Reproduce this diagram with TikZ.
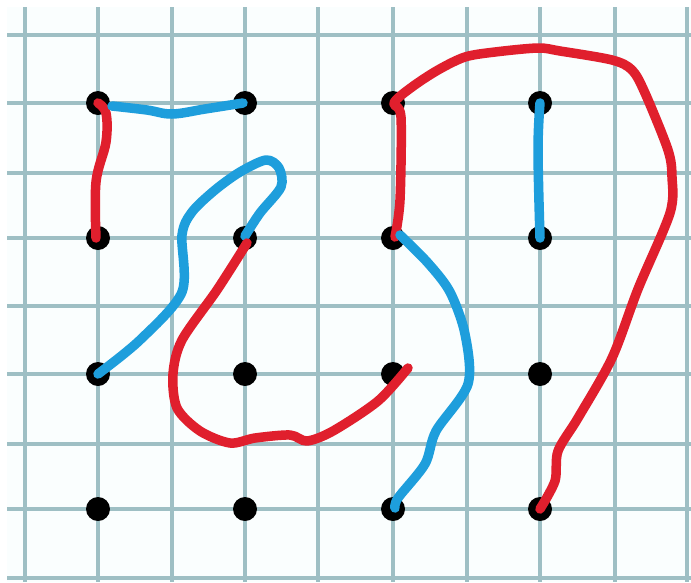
\documentclass[tikz,border=0pt]{standalone}
\definecolor{gridc}{HTML}{9EBFC4}
\definecolor{paper}{HTML}{FAFEFE}
\definecolor{redc}{HTML}{E01F2D}
\definecolor{bluec}{HTML}{1E9EDC}
\tikzset{
  gridline/.style={gridc, line width=3.4pt},
  dotn/.style={circle, fill=black, inner sep=0pt, minimum size=24pt},
  redpath/.style={redc, line width=9.5pt, line cap=round, line join=round},
  bluepath/.style={bluec, line width=9.5pt, line cap=round, line join=round},
}
\begin{document}
\begin{tikzpicture}[x=1pt,y=-1pt]
\useasboundingbox (0,0) rectangle (691,582);
\fill[white] (0,0) rectangle (691,582);
\fill[paper] (7,7) rectangle (691,582);
% grid
\foreach \x in {25,98,172,245,318,393,467,540,615,687}
  \draw[gridline] (\x,7) -- (\x,582);
\foreach \y in {35,103,173,238,306,374,444,509,578}
  \draw[gridline] (7,\y) -- (691,\y);
% dots
\foreach \i/\x in {1/98,2/245,3/393,4/540}
  \foreach \j/\y in {1/103,2/238,3/374,4/509}
    \node[dotn] (d\i\j) at (\x,\y) {};
% red 1
\draw[redpath] plot[smooth, tension=0.6] coordinates {(d11) (106,113) (106,142) (96,182) (96,238)};
% blue 1
\draw[bluepath] plot[smooth, tension=0.6] coordinates {(112,106) (147,110) (172,114) (205,109) (243,103)};
% blue 2
\draw[bluepath] plot[smooth, tension=0.5] coordinates {(d13) (140,340) (182,292) (182,235) (192,212) (215,190) (240,172) (266,160) (279,168) (281,187) (260,213) (245,236)};
% red 2
\draw[redpath] plot[smooth, tension=0.5] coordinates {(247,243) (217,290) (182,340) (173,374) (177,408) (200,431) (230,443) (255,438) (290,435) (307,441) (333,431) (378,401) (408,368)};
% red 3
\draw[redpath] plot[smooth, tension=0.5] coordinates {(395,237) (400,200) (401,117) (394,103) (412,87) (438,70) (465,57) (495,52) (538,48) (560,51) (612,60) (632,70) (645,93) (668,150) (672,177) (670,213) (638,289) (612,358) (578,418) (558,451) (555,481) (d44)};
% blue 3
\draw[bluepath] plot[smooth, tension=0.5] coordinates {(400,235) (428,263) (450,292) (465,334) (468,384) (436,431) (425,464) (398,498) (395,508)};
% blue 4
\draw[bluepath] plot[smooth, tension=0.6] coordinates {(d41) (538,150) (540,238)};
\end{tikzpicture}
\end{document}
